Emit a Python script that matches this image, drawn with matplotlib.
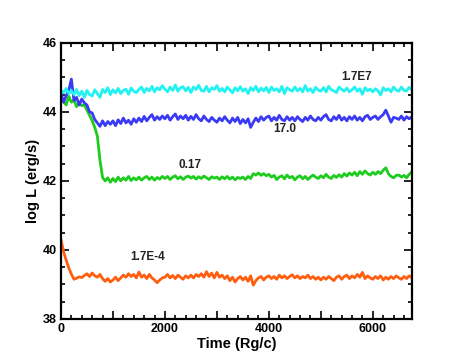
import numpy as np
import matplotlib
matplotlib.use("Agg")
import matplotlib.pyplot as plt
from matplotlib.ticker import MultipleLocator, FuncFormatter

plt.rcParams['font.family'] = ['Liberation Sans', 'DejaVu Sans']

# time grid (Rg/c), 50-unit sampling from 0 to 6750
time = np.arange(0, 6751, 50)

cyan_1p7e7 = [
    44.62, 44.56, 44.68, 44.53, 44.62, 44.50, 44.65, 44.47, 44.60, 44.42,
    44.62, 44.50, 44.46, 44.64, 44.53, 44.42, 44.65, 44.56, 44.70, 44.50,
    44.64, 44.55, 44.68, 44.53, 44.62, 44.66, 44.51, 44.69, 44.60, 44.56,
    44.65, 44.72, 44.56, 44.68, 44.61, 44.74, 44.58, 44.70, 44.64, 44.76,
    44.66, 44.58, 44.72, 44.62, 44.78, 44.60, 44.70, 44.73, 44.61, 44.71,
    44.56, 44.72, 44.65, 44.77, 44.62, 44.60, 44.74, 44.58, 44.70, 44.65,
    44.76, 44.60, 44.68, 44.58, 44.72, 44.64, 44.55, 44.70, 44.61, 44.73,
    44.60, 44.67, 44.53, 44.70, 44.62, 44.74, 44.58, 44.69, 44.61, 44.71,
    44.56, 44.72, 44.62, 44.67, 44.58, 44.74, 44.53, 44.70, 44.64, 44.60,
    44.72, 44.61, 44.68, 44.58, 44.76, 44.60, 44.67, 44.56, 44.71, 44.63,
    44.60, 44.70, 44.58, 44.74, 44.64, 44.61, 44.56, 44.72, 44.65, 44.60,
    44.69, 44.58, 44.64, 44.72, 44.60, 44.67, 44.51, 44.70, 44.61, 44.66,
    44.58, 44.67, 44.61, 44.49, 44.70, 44.62, 44.67, 44.58, 44.72, 44.63,
    44.60, 44.72, 44.62, 44.61, 44.71, 44.64,
]

blue_17 = [
    44.55, 44.28, 44.47, 44.62, 44.95, 44.33, 44.42, 44.20, 44.37, 44.26,
    44.20, 44.00, 43.97, 43.78, 43.68, 43.58, 43.74, 43.60, 43.72, 43.64,
    43.74, 43.60, 43.77, 43.66, 43.82, 43.68, 43.76, 43.64, 43.80, 43.70,
    43.82, 43.72, 43.87, 43.74, 43.84, 43.92, 43.76, 43.86, 43.78, 43.88,
    43.80, 43.90, 43.76, 43.86, 43.94, 43.78, 43.88, 43.80, 43.90, 43.76,
    43.87, 43.78, 43.92, 43.80, 43.74, 43.88, 43.78, 43.72, 43.84, 43.76,
    43.70, 43.82, 43.74, 43.86, 43.76, 43.68, 43.82, 43.72, 43.84, 43.66,
    43.78, 43.68, 43.80, 43.55, 43.70, 43.82, 43.72, 43.86, 43.76, 43.84,
    43.88, 43.74, 43.84, 43.76, 43.90, 43.78, 43.74, 43.86, 43.76, 43.84,
    43.74, 43.86, 43.78, 43.72, 43.84, 43.76, 43.88, 43.78, 43.74, 43.84,
    43.76, 43.86, 43.92, 43.78, 43.74, 43.86, 43.78, 43.90, 43.76, 43.84,
    43.74, 43.86, 43.78, 43.88, 43.76, 43.84, 43.74, 43.86, 43.90, 43.78,
    43.84, 43.88, 43.78, 43.86, 43.92, 44.05, 43.88, 43.70, 43.84, 43.82,
    43.78, 43.88, 43.76, 43.86, 43.80, 43.86,
]

green_0p17 = [
    44.45, 44.30, 44.20, 44.45, 44.28, 44.35, 44.15, 44.25, 44.18, 44.20,
    44.05, 43.90, 43.75, 43.55, 43.30, 42.60, 42.10, 42.00, 42.09, 41.96,
    42.07, 41.98, 42.11, 42.00, 42.09, 42.02, 42.13, 42.01, 42.09, 42.03,
    42.11, 42.02, 42.09, 42.13, 42.04, 42.11, 42.02, 42.10, 42.05, 42.13,
    42.07, 42.13, 42.04, 42.11, 42.15, 42.06, 42.12, 42.04, 42.11, 42.14,
    42.08, 42.13, 42.05, 42.12, 42.07, 42.14, 42.09, 42.04, 42.12, 42.08,
    42.11, 42.04, 42.12, 42.06, 42.13, 42.05, 42.11, 42.03, 42.10, 42.07,
    42.11, 42.04, 42.13, 42.07, 42.21, 42.17, 42.23, 42.16, 42.21, 42.15,
    42.19, 42.11, 42.16, 42.04, 42.11, 42.15, 42.06, 42.17, 42.09, 42.13,
    42.03, 42.11, 42.15, 42.06, 42.13, 42.04, 42.11, 42.17, 42.11, 42.07,
    42.15, 42.09, 42.19, 42.11, 42.07, 42.16, 42.10, 42.18, 42.11, 42.21,
    42.14, 42.23, 42.17, 42.25, 42.15, 42.27, 42.19, 42.29, 42.21, 42.17,
    42.25, 42.19, 42.27, 42.21, 42.31, 42.38, 42.21, 42.13, 42.09, 42.16,
    42.17, 42.11, 42.16, 42.09, 42.19, 42.26,
]

orange_1p7em4 = [
    40.30, 39.95, 39.70, 39.48, 39.30, 39.15, 39.18, 39.22, 39.20, 39.26,
    39.31, 39.23, 39.33, 39.25, 39.21, 39.29, 39.17, 39.09, 39.17, 39.07,
    39.13, 39.21, 39.11, 39.19, 39.27, 39.21, 39.31, 39.23, 39.29, 39.19,
    39.36, 39.21, 39.27, 39.17, 39.29, 39.19, 39.13, 39.05, 39.13, 39.19,
    39.21, 39.29, 39.19, 39.26, 39.17, 39.27, 39.21, 39.15, 39.25, 39.19,
    39.27, 39.19, 39.29, 39.23, 39.31, 39.21, 39.37, 39.23, 39.33, 39.19,
    39.35, 39.21, 39.27, 39.17, 39.25, 39.11, 39.21, 39.07, 39.17, 39.23,
    39.13, 39.21, 39.09, 39.25, 38.98, 39.11, 39.19, 39.23, 39.13, 39.21,
    39.25, 39.17, 39.23, 39.15, 39.27, 39.19, 39.25, 39.17, 39.23, 39.28,
    39.19, 39.25, 39.17, 39.23, 39.19, 39.27, 39.17, 39.23, 39.15, 39.21,
    39.13, 39.21, 39.15, 39.23, 39.17, 39.11, 39.21, 39.25, 39.15, 39.23,
    39.27, 39.17, 39.25, 39.19, 39.29, 39.21, 39.35, 39.17, 39.25, 39.19,
    39.15, 39.23, 39.17, 39.25, 39.13, 39.21, 39.15, 39.23, 39.17, 39.25,
    39.19, 39.15, 39.23, 39.17, 39.25, 39.20,
]

series_labels = ["1.7E7", "17.0", "0.17", "1.7E-4"]
label_pos = [(5680, 45.01), (4310, 43.51), (2480, 42.46), (1670, 39.80)]

fig = plt.figure(figsize=(4.69, 3.60), dpi=100)
ax = fig.add_axes([0.130, 0.114, 0.748, 0.767])

ax.plot(time, orange_1p7em4, color="#ff5e0e", lw=2.0)
ax.plot(time, green_0p17, color="#1ecc1e", lw=2.0)
ax.plot(time, blue_17, color="#3a3af5", lw=2.0)
ax.plot(time, cyan_1p7e7, color="#22f2f2", lw=2.0)

for lab, (x, y) in zip(series_labels, label_pos):
    ax.text(x, y, lab, ha="center", va="center", fontsize=8.5,
            fontweight="bold", color="#222222")

ax.set_xlim(0, 6750)
ax.set_ylim(38, 46)
ax.xaxis.set_major_locator(MultipleLocator(1000))
ax.xaxis.set_minor_locator(MultipleLocator(200))
ax.xaxis.set_major_formatter(FuncFormatter(lambda v, p: f"{int(v)}" if int(round(v)) % 2000 == 0 else ""))
ax.yaxis.set_major_locator(MultipleLocator(2))
ax.yaxis.set_minor_locator(MultipleLocator(0.5))

ax.tick_params(which="both", direction="in", top=True, right=True, width=1.2)
ax.tick_params(which="major", length=6, labelsize=9, pad=3)
ax.tick_params(which="minor", length=3)
for t in ax.get_xticklabels() + ax.get_yticklabels():
    t.set_fontweight("bold")
for s in ax.spines.values():
    s.set_linewidth(1.6)

ax.set_xlabel("Time (Rg/c)", fontsize=10.5, fontweight="bold", labelpad=1)
ax.set_ylabel("log L (erg/s)", fontsize=10.5, fontweight="bold", labelpad=2)

fig.savefig("out.png", dpi=100)
